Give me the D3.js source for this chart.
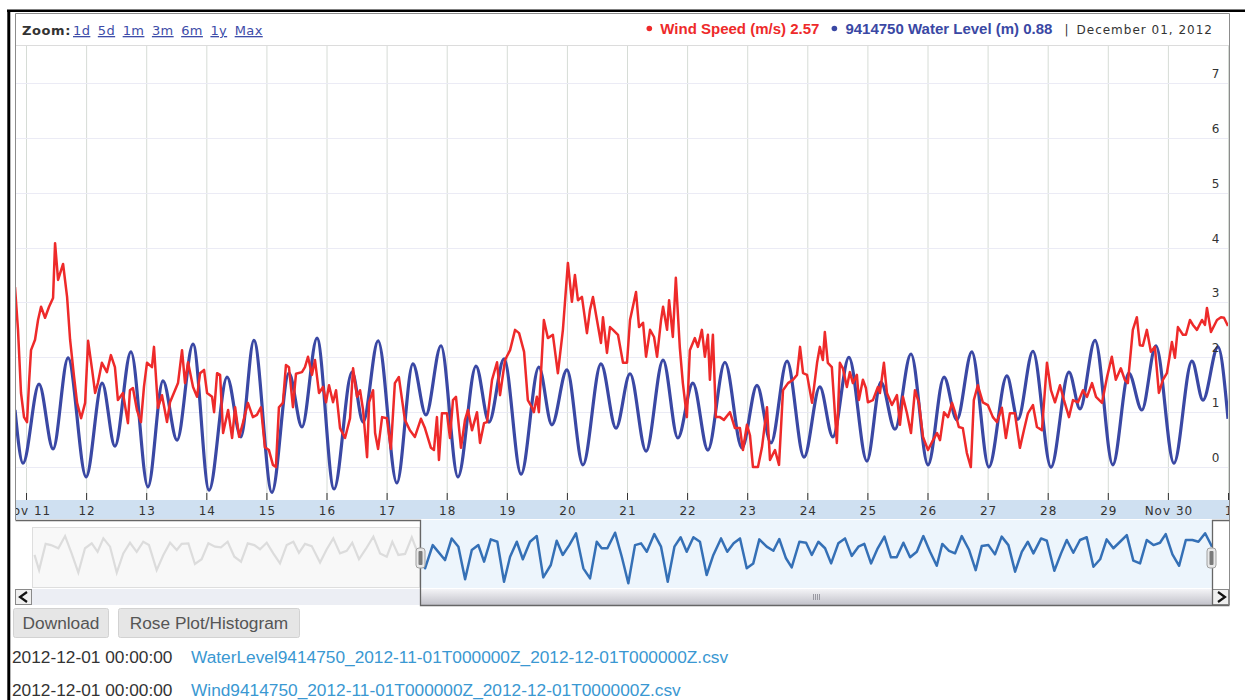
<!DOCTYPE html>
<html>
<head>
<meta charset="utf-8">
<script src="https://cdn.jsdelivr.net/npm/d3@7"></script>
<style>
  body { margin: 0; background: #fff; }
  svg { display: block; }
</style>
</head>
<body>
<svg id="chart" width="1245" height="700"></svg>
<script>
// hours are counted from 2012-11-11 00:00 UTC (main series) and 2012-11-01 00:00 UTC (navigator)
const T0 = Date.UTC(2012, 10, 11);
const NAV0 = Date.UTC(2012, 10, 1);
const T_END = Date.UTC(2012, 11, 1);
const HOUR = 3600e3;

// wind speed (m/s), [hour, value]
const windSpeed = [
  [-4.4,3.28],[-3.2,2.50],[-2.0,1.35],[-0.8,0.91],[0.4,0.82],[1.2,1.53],[2.0,2.13],[3.6,2.32],[4.8,2.68],[6.0,2.92],
  [7.6,2.72],[9.2,2.92],[10.8,3.08],[11.6,4.08],[12.8,3.41],[14.8,3.70],[16.4,3.10],[17.6,2.32],[19.2,1.64],[20.4,1.17],
  [22.0,0.89],[23.6,1.17],[24.8,2.30],[26.4,1.77],[27.6,1.35],[28.7,1.53],[30.3,1.90],[32.3,1.73],[33.9,2.04],[35.5,1.82],
  [36.7,1.22],[38.7,1.35],[40.7,0.80],[41.5,1.40],[42.7,1.44],[44.3,1.04],[45.9,0.82],[47.1,1.46],[48.3,1.90],[50.3,1.82],
  [51.1,2.19],[52.7,1.08],[54.3,1.31],[56.3,0.82],[57.5,1.18],[59.5,1.40],[60.7,1.53],[62.3,2.13],[63.5,1.53],[64.7,1.91],
  [66.7,1.46],[68.3,1.28],[69.5,1.71],[71.1,1.77],[72.3,1.35],[74.3,1.28],[75.1,1.00],[76.3,1.71],[77.5,1.68],[78.7,0.62],
  [80.7,1.04],[82.3,0.53],[83.5,1.09],[85.1,0.55],[86.6,0.80],[88.6,1.17],[90.6,0.91],[92.2,0.95],[93.8,1.09],[95.4,0.36],
  [97.0,0.31],[98.6,0.04],[99.8,0.00],[101.0,1.09],[102.6,1.17],[103.8,1.86],[105.0,1.82],[106.6,1.09],[107.8,1.70],[110.2,1.73],
  [111.4,1.82],[112.6,2.01],[114.2,1.68],[115.4,1.95],[117.0,1.35],[118.6,1.46],[119.8,1.18],[121.0,1.49],[122.6,1.18],[123.8,1.40],
  [125.4,0.71],[127.4,0.53],[129.4,0.89],[130.6,1.80],[132.2,1.28],[133.4,1.40],[134.6,1.04],[136.2,0.18],[137.0,1.18],[138.6,1.40],
  [139.4,0.62],[140.6,0.33],[142.2,0.91],[144.1,0.89],[145.7,0.33],[147.3,1.53],[148.9,1.64],[151.3,0.86],[153.3,0.67],[155.3,0.55],
  [157.7,0.88],[159.3,0.71],[161.7,0.35],[162.9,0.31],[164.1,0.91],[164.9,0.13],[166.1,0.98],[168.1,0.98],[169.3,0.53],[170.5,1.22],
  [171.7,1.28],[173.7,0.35],[175.3,0.86],[176.5,1.04],[178.1,0.67],[180.1,1.00],[181.3,0.44],[182.9,0.80],[184.1,0.82],[186.1,1.59],
  [188.1,1.91],[189.3,1.31],[191.3,1.95],[193.3,2.13],[195.3,2.50],[196.9,2.44],[198.9,2.10],[200.4,1.22],[202.0,1.09],[202.8,1.00],
  [204.0,1.28],[204.8,1.00],[206.8,2.68],[208.4,2.35],[210.4,2.41],[212.4,1.71],[214.4,2.50],[216.4,3.72],[218.0,3.01],[219.2,3.50],
  [220.4,3.04],[222.0,3.10],[224.0,2.44],[225.2,2.86],[226.4,3.10],[228.0,2.68],[229.6,2.26],[230.4,2.73],[232.0,2.08],[233.2,2.55],
  [234.4,2.50],[236.4,2.41],[238.4,1.90],[240.0,1.90],[241.2,2.68],[243.6,3.19],[244.8,2.55],[246.4,2.63],[247.6,2.01],[249.2,2.50],
  [250.8,2.37],[252.0,2.01],[253.6,2.68],[254.4,2.92],[256.0,2.50],[256.8,3.04],[258.3,2.37],[259.5,3.45],[261.1,2.17],[262.3,1.53],
  [263.9,0.91],[265.1,2.13],[267.1,2.35],[268.3,2.19],[269.9,2.50],[271.1,2.01],[272.3,2.41],[273.1,1.59],[274.3,2.41],[275.5,0.91],
  [277.1,0.91],[278.7,0.86],[281.1,1.00],[283.1,0.71],[285.1,0.71],[286.3,0.31],[287.9,0.77],[289.1,0.58],[290.3,0.00],[292.3,0.00],
  [293.9,0.36],[295.9,1.09],[297.1,0.13],[299.1,0.31],[300.7,0.04],[302.3,1.40],[304.3,1.53],[306.3,1.59],[307.9,1.68],[309.1,2.19],
  [310.3,1.71],[311.9,1.68],[313.9,1.17],[315.9,1.90],[317.0,2.19],[318.2,1.95],[319.0,2.46],[320.2,1.90],[321.8,1.82],[323.8,0.44],
  [325.0,1.90],[326.2,1.80],[327.8,1.46],[329.0,1.73],[330.2,1.53],[331.8,1.68],[332.6,1.22],[334.2,1.59],[335.4,1.44],[336.2,1.18],
  [338.2,1.22],[340.2,1.46],[341.0,1.35],[342.6,1.90],[343.8,1.35],[345.8,1.13],[347.8,1.31],[349.0,0.77],[350.2,1.28],[351.8,0.98],
  [353.4,0.62],[355.0,1.40],[356.6,1.17],[358.2,0.55],[360.2,0.31],[362.2,0.49],[363.8,0.62],[365.0,0.49],[366.6,1.00],[368.2,0.91],
  [369.8,1.17],[371.0,1.00],[372.5,0.73],[374.1,0.71],[375.7,0.26],[377.3,0.00],[378.5,1.22],[380.1,1.49],[382.1,1.18],[384.1,1.13],
  [386.1,0.91],[387.7,0.82],[389.7,1.08],[391.3,0.53],[392.9,0.98],[394.9,0.98],[396.9,0.35],[398.5,0.67],[400.1,0.98],[402.1,1.13],
  [403.7,0.73],[405.7,0.67],[407.7,1.90],[409.3,1.40],[410.9,1.18],[412.9,1.49],[414.5,1.22],[416.5,0.91],[418.1,1.22],[420.1,1.18],
  [422.1,1.40],[423.7,1.28],[425.7,1.53],[427.3,1.28],[429.7,1.17],[431.6,1.62],[433.6,2.01],[435.2,1.59],[437.2,1.80],[438.8,1.59],
  [440.0,1.53],[442.0,2.50],[443.6,2.73],[444.8,2.22],[446.0,2.21],[447.6,2.50],[449.2,2.10],[450.8,2.19],[452.4,1.35],[454.0,1.59],
  [455.6,1.71],[457.6,2.28],[458.8,1.99],[460.0,2.55],[462.0,2.41],[463.2,2.41],[464.8,2.68],[466.0,2.59],[467.6,2.50],[469.6,2.68],
  [470.8,2.59],[471.6,2.90],[473.2,2.46],[474.4,2.57],[475.6,2.68],[477.2,2.73],[478.4,2.72],[480.0,2.57]
];

// water level (m), highs and lows of the tide, [hour, value]
const waterLevel = [
  [-4.4,1.04],[-1.2,0.07],[5.2,1.51],[10.8,0.33],[16.8,1.99],[24.0,-0.18],[30.4,1.53],[35.5,0.38],[41.9,2.10],[48.7,-0.36],
  [54.7,1.57],[60.3,0.49],[66.7,2.24],[73.1,-0.42],[80.3,1.64],[85.8,0.55],[91.0,2.31],[98.2,-0.46],[105.0,1.71],[110.2,0.73],
  [116.2,2.35],[123.0,-0.40],[130.2,1.73],[134.6,0.82],[140.6,2.30],[148.1,-0.29],[154.5,1.88],[159.7,0.95],[165.7,2.21],[172.5,-0.18],
  [179.7,1.84],[184.9,0.82],[190.9,1.97],[197.7,-0.13],[204.8,1.82],[210.0,0.77],[216.0,1.77],[222.4,0.04],[229.6,1.88],[235.6,0.71],
  [241.2,1.70],[247.6,0.29],[254.4,1.95],[260.3,0.53],[266.3,1.53],[272.3,0.31],[279.1,1.91],[285.9,0.35],[291.9,1.49],[297.5,0.44],
  [303.9,1.93],[310.7,0.18],[317.0,1.46],[322.2,0.55],[328.6,2.00],[335.8,0.11],[341.4,1.55],[347.0,0.69],[353.4,2.06],[360.2,0.04],
  [366.6,1.64],[371.7,0.86],[377.7,2.10],[384.5,0.00],[391.7,1.66],[396.1,0.87],[402.1,2.11],[409.3,0.00],[416.5,1.73],[420.9,1.06],
  [426.9,2.31],[434.0,0.04],[440.4,1.71],[445.6,1.04],[451.2,2.21],[458.4,0.07],[465.6,1.93],[470.0,1.22],[476.0,2.19],[480.0,0.88]
];

// navigator: coarse water level for the whole month, [hour since Nov 1, value]
const navWater = [
  [0,1.08],[2.8,0.31],[6.8,1.64],[10.1,1.58],[14.6,1.42],[18.7,2.04],[22.7,1.16],[26.8,0.18],[30.9,1.42],[35.0,1.67],
  [38.6,1.24],[42.1,1.92],[46.2,1.50],[50.3,0.18],[54.3,1.16],[58.4,1.70],[62.5,1.24],[66.5,1.75],[70.0,1.58],[74.7,0.31],
  [78.8,1.08],[82.9,1.70],[87.0,1.33],[90.0,1.64],[94.1,1.67],[98.1,0.62],[102.2,0.86],[106.3,1.67],[110.4,1.50],[114.0,1.47],
  [118.1,1.75],[122.2,0.99],[126.3,0.74],[130.4,1.67],[134.4,1.58],[137.9,1.37],[142.0,1.70],[146.0,1.16],[150.1,0.65],[154.2,1.58],
  [158.3,1.75],[161.7,1.19],[165.4,1.64],[169.5,1.53],[174.6,0.69],[178.7,1.37],[182.7,1.92],[186.8,1.16],[190.9,1.29],[194.3,1.70],
  [198.4,0.86],[202.5,1.37],[207.2,2.01],[211.3,1.16],[215.4,0.99],[218.8,1.75],[222.5,1.08],[226.6,1.13],[230.7,1.98],[233.7,1.33],
  [238.8,0.40],[243.5,1.58],[251.0,0.82],[255.1,1.92],[259.2,1.50],[263.3,-0.16],[267.4,1.33],[271.4,1.58],[274.9,0.74],[279.0,1.87],
  [283.0,1.75],[287.1,-0.28],[290.8,0.99],[294.9,1.75],[298.6,0.86],[303.0,1.75],[307.1,2.04],[311.1,-0.06],[315.7,0.57],[319.3,1.80],
  [323.0,1.08],[327.0,1.58],[331.1,2.18],[335.6,0.40],[339.7,-0.11],[343.8,1.75],[346.8,1.42],[350.3,1.42],[355.0,2.21],[359.1,0.99],
  [363.1,-0.36],[367.2,1.58],[370.9,1.67],[374.4,1.24],[379.0,2.14],[383.1,1.50],[387.2,-0.28],[391.3,1.50],[395.1,1.98],[398.8,1.24],
  [402.9,1.98],[406.9,1.75],[411.0,0.06],[415.1,1.08],[419.8,1.92],[423.6,1.24],[427.5,1.67],[431.4,1.92],[435.5,0.40],[439.5,0.65],
  [443.2,1.87],[447.7,1.50],[451.8,1.29],[455.4,1.89],[459.5,0.91],[463.0,0.45],[467.7,1.75],[471.8,1.70],[475.3,1.08],[479.3,1.75],
  [483.4,1.42],[487.1,0.65],[491.5,1.67],[495.6,1.92],[499.7,1.03],[503.8,1.50],[507.4,1.64],[511.5,0.65],[515.6,1.42],[519.7,2.01],
  [523.7,0.96],[527.2,0.96],[531.3,1.70],[535.4,0.96],[539.5,1.24],[543.5,2.04],[547.6,1.24],[551.7,0.53],[555.1,1.64],[559.2,1.29],
  [562.9,1.16],[567.0,2.04],[571.5,1.33],[575.5,0.31],[579.2,1.53],[583.3,1.58],[587.3,1.11],[591.4,2.01],[595.5,1.58],[599.6,0.23],
  [603.7,1.24],[607.4,1.75],[610.8,1.16],[615.5,1.92],[619.0,1.80],[623.6,0.28],[627.7,1.16],[631.2,1.84],[635.2,1.19],[639.3,1.84],
  [643.4,1.98],[647.5,0.48],[651.6,0.86],[655.6,1.87],[659.7,1.42],[663.8,1.75],[667.9,2.09],[671.9,0.79],[676.0,0.65],[680.1,1.84],
  [684.2,1.58],[688.2,1.70],[691.7,2.14],[695.8,1.11],[699.9,0.53],[704.0,1.84],[708.0,1.84],[711.7,1.75],[715.8,2.18],[720.0,1.50]
];

const yTicks = [0, 1, 2, 3, 4, 5, 6, 7];
const dayLabels = ["Nov 11","12","13","14","15","16","17","18","19","20","21","22","23","24","25","26","27","28","29","Nov 30","1"];
const zoomLinks = ["1d", "5d", "1m", "3m", "6m", "1y", "Max"];
const seriesNames = ["Wind Speed (m/s)", "9414750 Water Level (m)"];
const lastValues = ["2.57", "0.88"];
const legendDate = "December 01, 2012";
const buttons = ["Download", "Rose Plot/Histogram"];
const fileStamp = "2012-12-01 00:00:00";
const files = [
  "WaterLevel9414750_2012-11-01T000000Z_2012-12-01T000000Z.csv",
  "Wind9414750_2012-11-01T000000Z_2012-12-01T000000Z.csv"
];

const RED = "#ee2a2a";
const BLUE = "#3a48a4";
const NAVBLUE = "#3570b6";
const SANS = "'DejaVu Sans', Verdana, sans-serif";
const ARIAL = "'Liberation Sans', Arial, sans-serif";

const svg = d3.select("#chart");

// plot box
const L = 15, R = 1228, TOP = 45, BOT = 500;
const x = d3.scaleUtc().domain([T0 - 4.4 * HOUR, T_END]).range([L, R]);
const y = d3.scaleLinear().domain([-0.6, 7.69]).range([BOT, TOP]);
const nx = d3.scaleUtc().domain([NAV0, T_END]).range([34.5, 1212]);
const ny = d3.scaleLinear().domain([-0.6, 2.5]).range([588, 527]);

const defs = svg.append("defs");
defs.append("clipPath").attr("id", "plotClip")
  .append("rect").attr("x", L).attr("y", TOP).attr("width", R - L).attr("height", BOT - TOP);
defs.append("clipPath").attr("id", "axisClip")
  .append("rect").attr("x", L).attr("y", BOT).attr("width", 1229 - L).attr("height", 20);
defs.append("clipPath").attr("id", "navLeft")
  .append("rect").attr("x", 32).attr("y", 520).attr("width", 420 - 32).attr("height", 70);
defs.append("clipPath").attr("id", "navRight")
  .append("rect").attr("x", 420).attr("y", 520).attr("width", 1212 - 420).attr("height", 70);
const grad = defs.append("linearGradient").attr("id", "thumb").attr("x1", 0).attr("x2", 0).attr("y1", 0).attr("y2", 1);
grad.append("stop").attr("offset", "0%").attr("stop-color", "#f4f4f7");
grad.append("stop").attr("offset", "100%").attr("stop-color", "#c2c2ca");

// gridlines
const days = x.ticks(d3.utcDay.every(1)).filter(d => d >= T0);
svg.append("g").selectAll("line").data(days).join("line")
  .attr("x1", d => x(d) + 0.5).attr("x2", d => x(d) + 0.5)
  .attr("y1", TOP).attr("y2", BOT)
  .attr("stroke", "#d6dcd6");
svg.append("g").selectAll("line").data(yTicks).join("line")
  .attr("x1", L).attr("x2", R)
  .attr("y1", d => Math.round(y(d)) + 0.5).attr("y2", d => Math.round(y(d)) + 0.5)
  .attr("stroke", "#ebebf5");

// series
const toDate = h => new Date(T0 + h * HOUR);
const windLine = d3.line().x(d => x(toDate(d[0]))).y(d => y(d[1]));
const waterLine = d3.line().curve(d3.curveMonotoneX).x(d => x(toDate(d[0]))).y(d => y(d[1]));
const plot = svg.append("g").attr("clip-path", "url(#plotClip)");
plot.append("path").datum(waterLevel).attr("d", waterLine)
  .attr("fill", "none").attr("stroke", BLUE).attr("stroke-width", 3.2);
plot.append("path").datum(windSpeed).attr("d", windLine)
  .attr("fill", "none").attr("stroke", RED).attr("stroke-width", 2.5).attr("stroke-linejoin", "round");

// y labels on the right
svg.append("g").selectAll("text").data(yTicks).join("text")
  .attr("x", 1216).attr("y", d => y(d) - 5)
  .attr("text-anchor", "middle")
  .style("font", `12px ${SANS}`).style("letter-spacing", "1px")
  .attr("fill", "#333").text(d => d);

// x axis band
svg.append("rect").attr("x", L).attr("y", BOT).attr("width", 1229 - L).attr("height", 19).attr("fill", "#cfe0f1");
svg.append("g").selectAll("line").data(days).join("line")
  .attr("x1", d => x(d) + 0.5).attr("x2", d => x(d) + 0.5)
  .attr("y1", 493).attr("y2", BOT).attr("stroke", "#333");
svg.append("g").attr("clip-path", "url(#axisClip)")
  .selectAll("text").data(days).join("text")
  .attr("x", d => x(d) + 1).attr("y", 515)
  .attr("text-anchor", "middle")
  .style("font", `12px ${SANS}`).style("letter-spacing", "1px")
  .attr("fill", "#333").text((d, i) => dayLabels[i]);

// chart frame
svg.append("line").attr("x1", L).attr("x2", 1229).attr("y1", 45.5).attr("y2", 45.5).attr("stroke", "#dcdcdc");
svg.append("path")
  .attr("d", "M15.5,520 V13.5 H1229.5 V605")
  .attr("fill", "none").attr("stroke", "#8c8c8c");

// navigator
svg.append("rect").attr("x", 32.5).attr("y", 527.5).attr("width", 387).attr("height", 60)
  .attr("fill", "#f8f8f8").attr("stroke", "#dedede");
svg.append("rect").attr("x", 420).attr("y", 520).attr("width", 792).attr("height", 68).attr("fill", "#edf5fc");
const navLine = d3.line().x(d => nx(new Date(NAV0 + d[0] * HOUR))).y(d => ny(d[1]));
svg.append("path").datum(navWater).attr("d", navLine).attr("clip-path", "url(#navLeft)")
  .attr("fill", "none").attr("stroke", "#dcdcdc").attr("stroke-width", 2.2);
svg.append("path").datum(navWater).attr("d", navLine).attr("clip-path", "url(#navRight)")
  .attr("fill", "none").attr("stroke", NAVBLUE).attr("stroke-width", 2.5).attr("stroke-linejoin", "round");

// scrollbar
svg.append("rect").attr("x", 32).attr("y", 589).attr("width", 1180).attr("height", 16).attr("fill", "#eceef4");
svg.append("rect").attr("x", 420).attr("y", 589).attr("width", 792).attr("height", 16).attr("fill", "url(#thumb)");
svg.append("g").selectAll("line").data([0, 1, 2, 3]).join("line")
  .attr("x1", d => 813.5 + d * 2).attr("x2", d => 813.5 + d * 2)
  .attr("y1", 594).attr("y2", 600).attr("stroke", "#9a9aa2");
[[15, "M27,592 L20,597 L27,602"], [1212, "M1218,592 L1225,597 L1218,602"]].forEach(([bx, chev]) => {
  svg.append("rect").attr("x", bx + 0.5).attr("y", 589.5).attr("width", 16).attr("height", 15)
    .attr("fill", "#efefef").attr("stroke", "#8a8a8a");
  svg.append("path").attr("d", chev).attr("fill", "none").attr("stroke", "#111").attr("stroke-width", 2.2);
});
svg.append("path")
  .attr("d", "M15.5,520.5 H420.5 V605.5 H1229.5 M1212.5,605.5 V520.5 H1229.5")
  .attr("fill", "none").attr("stroke", "#666").attr("stroke-width", 1.3);
[420.5, 1211.5].forEach(hx => {
  svg.append("rect").attr("x", hx - 4.5).attr("y", 548).attr("width", 9).attr("height", 20).attr("rx", 3)
    .attr("fill", "#e8e8e8").attr("stroke", "#a0a0a0");
  svg.append("rect").attr("x", hx - 2).attr("y", 551).attr("width", 4).attr("height", 14).attr("rx", 1)
    .attr("fill", "#7a7a7a");
});

// header: zoom links
const zoomLabel = svg.append("text").attr("x", 22).attr("y", 35)
  .style("font", `bold 13px ${SANS}`).style("letter-spacing", "0.6px").attr("fill", "#333").text("Zoom:");
let zx = 73;
zoomLinks.forEach(t => {
  const el = svg.append("text").attr("x", zx).attr("y", 35)
    .style("font", `13px ${SANS}`).style("letter-spacing", "0.4px").style("text-decoration", "underline")
    .attr("fill", "#3d4ca8").text(t);
  zx += el.node().getComputedTextLength() + 7.5;
});

// header: legend, laid out from the right edge
const legendPieces = [
  { dot: RED },
  { text: `${seriesNames[0]} ${lastValues[0]}`, font: `bold 15px ${ARIAL}`, fill: RED, gap: 15 },
  { dot: BLUE },
  { text: `${seriesNames[1]} ${lastValues[1]}`, font: `bold 15px ${ARIAL}`, fill: BLUE, gap: 12 },
  { text: "|", font: `12px ${SANS}`, fill: "#333", gap: 8 },
  { text: legendDate, font: `12px ${SANS}`, fill: "#333", ls: "1px", gap: 0 }
];
let lx = 1213;
for (let i = legendPieces.length - 1; i >= 0; i--) {
  const p = legendPieces[i];
  if (p.dot) {
    svg.append("circle").attr("cx", lx - 11).attr("cy", 28.5).attr("r", 2.8).attr("fill", p.dot);
    lx -= 11 + 15;
    continue;
  }
  const el = svg.append("text").attr("x", lx).attr("y", 33.5).attr("text-anchor", "end")
    .style("font", p.font).attr("fill", p.fill).text(p.text);
  if (p.ls) el.style("letter-spacing", p.ls);
  lx -= el.node().getComputedTextLength();
  const next = legendPieces[i - 1];
  if (next && !next.dot) lx -= next.gap;
}

// outer black frame of the page capture
svg.append("line").attr("x1", 7).attr("x2", 1245).attr("y1", 10.8).attr("y2", 10.8).attr("stroke", "#000").attr("stroke-width", 2.6);
svg.append("line").attr("x1", 8.8).attr("x2", 8.8).attr("y1", 10).attr("y2", 700).attr("stroke", "#000").attr("stroke-width", 3);

// buttons
const btnBox = [[13, 95], [118, 181]];
buttons.forEach((b, i) => {
  const [bx, bw] = btnBox[i];
  svg.append("rect").attr("x", bx + 0.5).attr("y", 608.5).attr("width", bw).attr("height", 29).attr("rx", 2)
    .attr("fill", "#e6e6e6").attr("stroke", "#d2d2d2");
  svg.append("text").attr("x", bx + bw / 2 + 0.5).attr("y", 629).attr("text-anchor", "middle")
    .style("font", `17.3px ${ARIAL}`).attr("fill", "#555").text(b);
});

// file rows
files.forEach((f, i) => {
  const by = 663 + i * 32.5;
  svg.append("text").attr("x", 12).attr("y", by)
    .style("font", `17.3px ${ARIAL}`).attr("fill", "#333").text(fileStamp);
  svg.append("text").attr("x", 191).attr("y", by)
    .style("font", `17.3px ${ARIAL}`).attr("fill", "#3a98d2").text(f);
});
</script>
</body>
</html>
